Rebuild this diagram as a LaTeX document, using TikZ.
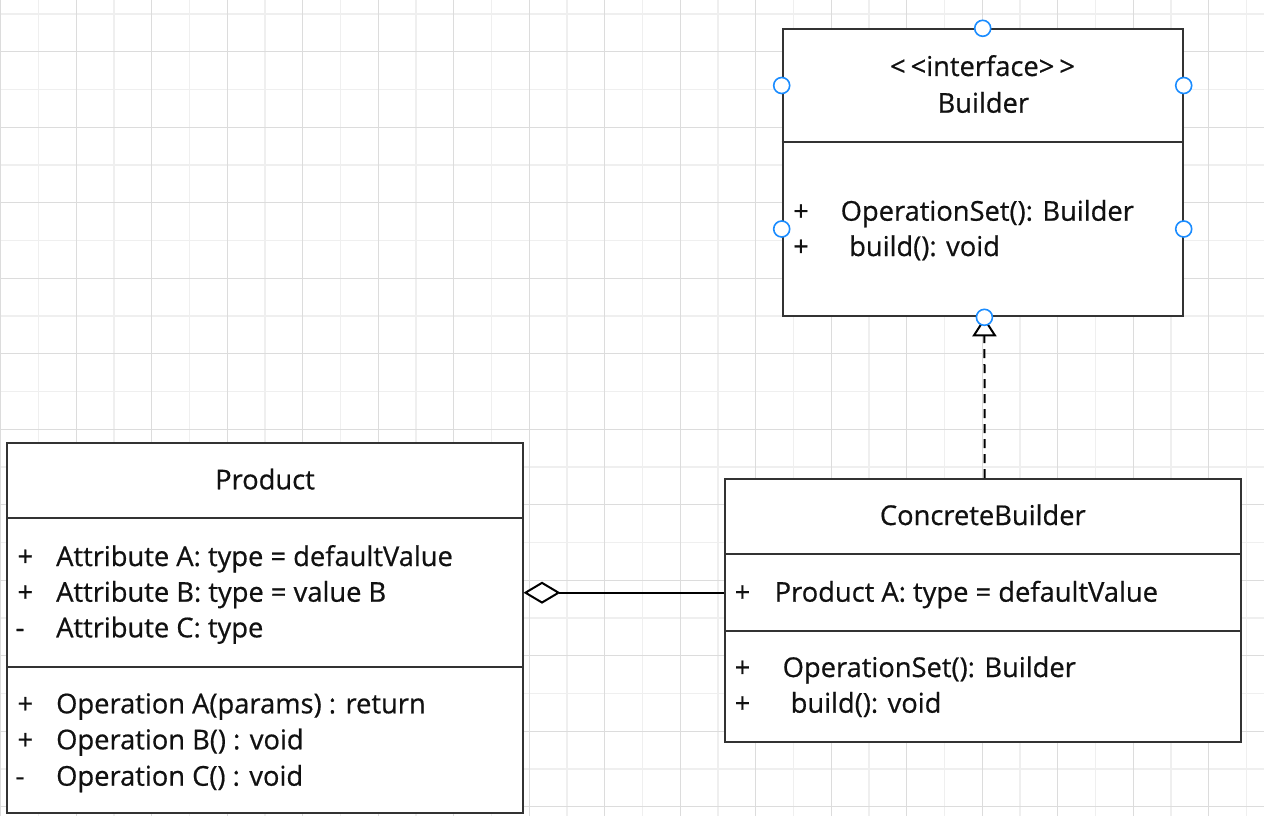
\documentclass[tikz,border=0pt]{standalone}
\usepackage{fontspec}
\newfontfamily\umlfont[FakeBold=0.6]{Open Sans}
\usetikzlibrary{arrows.meta,calc}
\definecolor{gridmajor}{HTML}{DCDCDC}
\definecolor{gridminor}{HTML}{EFEFEF}
\definecolor{boxc}{HTML}{333333}
\definecolor{txtc}{HTML}{111111}
\definecolor{pointc}{HTML}{1A8CFF}
\begin{document}
\begin{tikzpicture}[x=1pt,y=-1pt,
  umlbox/.style={draw=boxc,line width=2pt,fill=white,rectangle,inner sep=0pt},
  divider/.style={draw=boxc,line width=2pt},
  umltext/.style={inner sep=0pt,text=txtc,font=\umlfont\fontsize{27.3}{32}\selectfont},
  txt/.style={umltext,anchor=base west},
  ttl/.style={umltext,anchor=base},
  sign/.style={umltext,anchor=base},
  cpoint/.style={circle,draw=pointc,line width=1.6pt,fill=white,minimum size=16pt,inner sep=0pt},
  realize/.style={draw=black,line width=2pt,dash pattern=on 9pt off 6pt,
    -{Triangle[open,fill=white,length=19pt,width=24pt]}},
  aggregate/.style={draw=black,line width=2pt,
    -{Diamond[open,fill=white,length=37pt,width=22pt]}}
]
\useasboundingbox (0,0) rectangle (1264,816);
\fill[white] (0,0) rectangle (1264,816);
% grid
\foreach \k in {1,3,...,33} \draw[gridminor,line width=1.3pt] (0.7+37.75*\k,0) -- (0.7+37.75*\k,816);
\foreach \k in {0,2,...,20} \draw[gridminor,line width=1.3pt] (0,14+37.75*\k) -- (1264,14+37.75*\k);
\foreach \k in {0,2,...,32} \draw[gridmajor,line width=1.3pt] (0.7+37.75*\k,0) -- (0.7+37.75*\k,816);
\foreach \k in {1,3,...,21} \draw[gridmajor,line width=1.3pt] (0,14+37.75*\k) -- (1264,14+37.75*\k);

% boxes
\node[umlbox,minimum width=400pt,minimum height=287pt] (builder) at (982.7,172.8) {};
\node[umlbox,minimum width=515.5pt,minimum height=370.3pt] (product) at (264.75,627.85) {};
\node[umlbox,minimum width=516pt,minimum height=262.7pt] (cb) at (983,610.35) {};

% divider levels
\coordinate (bdiv) at (0,141.7);
\coordinate (pdiv1) at (0,518);
\coordinate (pdiv2) at (0,666.7);
\coordinate (cdiv1) at (0,554);
\coordinate (cdiv2) at (0,630.7);
\draw[divider] (builder.west |- bdiv) -- (builder.east |- bdiv);
\draw[divider] (product.west |- pdiv1) -- (product.east |- pdiv1);
\draw[divider] (product.west |- pdiv2) -- (product.east |- pdiv2);
\draw[divider] (cb.west |- cdiv1) -- (cb.east |- cdiv1);
\draw[divider] (cb.west |- cdiv2) -- (cb.east |- cdiv2);

% Builder texts
\node[ttl] (bstereo) at (982.5,76) {<\kern5pt<interface>\kern5pt>};
\node[ttl] (btitle) at (983.3,112.7) {Builder};
\node[sign] (bs1) at (801,220.7) {+};
\node[txt] (bm1) at (840.5,220.7) {OperationSet(): Builder};
\node[sign] (bs2) at (801,256) {+};
\node[txt] (bm2) at (849,256) {build(): void};

% Product texts
\node[ttl] (ptitle) at (265,489.3) {Product};
\node[sign] (ps1) at (25.3,566) {+};
\node[txt] (pa1) at (56,566) {Attribute A: type = defaultValue};
\node[sign] (ps2) at (25.3,601.7) {+};
\node[txt] (pa2) at (56,601.7) {Attribute B: type = value B};
\node[sign] (ps3) at (20,637.3) {-};
\node[txt] (pa3) at (56,637.3) {Attribute C: type};
\node[sign] (ps4) at (25.3,713.3) {+};
\node[txt] (po1) at (56,713.3) {Operation A(params) : return};
\node[sign] (ps5) at (25.3,749.3) {+};
\node[txt] (po2) at (56,749.3) {Operation B() : void};
\node[sign] (ps6) at (20,785.7) {-};
\node[txt] (po3) at (56,785.7) {Operation C() : void};

% ConcreteBuilder texts
\node[ttl] (ctitle) at (982.8,525) {ConcreteBuilder};
\node[sign] (cs1) at (742.5,601.7) {+};
\node[txt] (ca1) at (774.5,601.7) {Product A: type = defaultValue};
\node[sign] (cs2) at (742.5,677) {+};
\node[txt] (cm1) at (782.5,677) {OperationSet(): Builder};
\node[sign] (cs3) at (742.5,712.7) {+};
\node[txt] (cm2) at (790.5,712.7) {build(): void};

% connectors
\coordinate (aggy) at (0,592.7);
\draw[aggregate] (cb.west |- aggy) -- (product.east |- aggy);
\draw[realize] ([xshift=1.7pt]cb.north) -- ([xshift=1.7pt]builder.south);

% connection points on Builder
\coordinate (bhead) at (0,85.5);
\coordinate (bbody) at (0,229);
\node[cpoint] (cp1) at (builder.north) {};
\node[cpoint] (cp2) at (builder.west |- bhead) {};
\node[cpoint] (cp3) at (builder.east |- bhead) {};
\node[cpoint] (cp4) at (builder.west |- bbody) {};
\node[cpoint] (cp5) at (builder.east |- bbody) {};
\node[cpoint] (cp6) at ([xshift=1.7pt]builder.south) {};
\end{tikzpicture}
\end{document}
